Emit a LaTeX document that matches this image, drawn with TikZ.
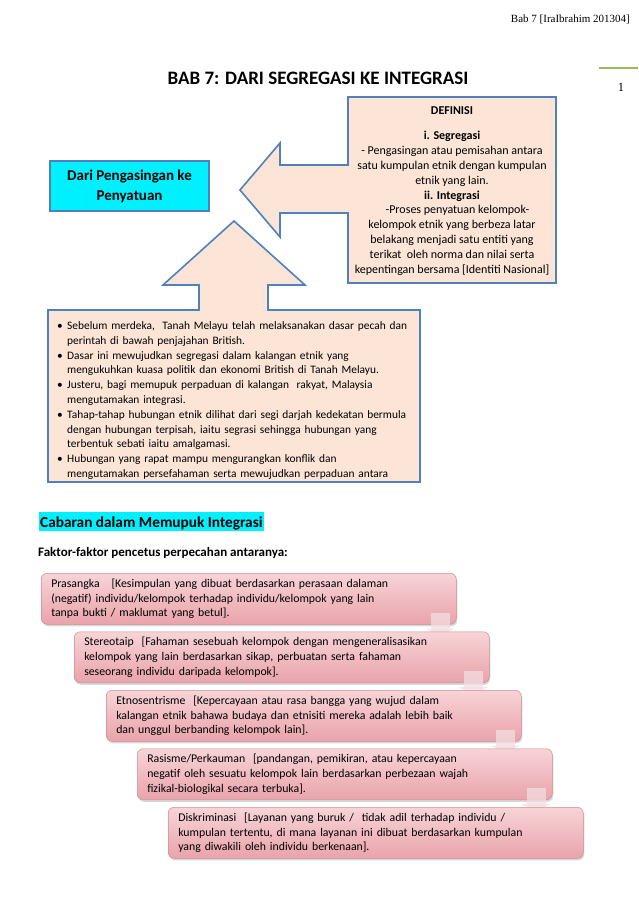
\documentclass[tikz,border=0pt]{standalone}
\usepackage{fontspec}
\setmainfont{Carlito}
\newfontfamily\hdrfont{Liberation Serif}
\usetikzlibrary{shadows}
\definecolor{peach}{RGB}{252,229,214}
\definecolor{bluebord}{RGB}{79,129,189}
\definecolor{cyanfill}{RGB}{0,240,255}
\definecolor{pinktop}{RGB}{247,212,215}
\definecolor{pinkbot}{RGB}{233,163,171}
\definecolor{pinkline}{RGB}{205,140,148}
\definecolor{conncol}{RGB}{242,222,225}
\definecolor{greenline}{RGB}{155,187,89}
\newcommand\blitem{\par\hangindent=10pt\hangafter=1\noindent\makebox[10pt][l]{\textbullet}}
\begin{document}
\begin{tikzpicture}[x=1pt,y=-1pt,
  callout/.style={fill=peach, draw=bluebord, line width=1.6pt, line join=miter},
  stepbox/.style={rounded corners=6pt, top color=pinktop, bottom color=pinkbot,
    draw=pinkline, line width=0.5pt, anchor=north west, text width=395pt,
    inner xsep=10pt, inner ysep=0pt, minimum height=51pt, align=left,
    font=\fontsize{11.8}{14.8}\selectfont,
    drop shadow={opacity=0.3, shadow xshift=1pt, shadow yshift=-2pt}},
  conn/.style={fill=conncol, opacity=0.75, draw=none}
]
\useasboundingbox (0,0) rectangle (638,902);
\fill[white] (0,0) rectangle (638,902);

% header
\node[anchor=base east, inner sep=0pt, font=\hdrfont\fontsize{11}{13}\selectfont] (hdr) at (630,22) {Bab 7 [IraIbrahim 201304]};
\draw[greenline, line width=2.5pt] (599,68) coordinate (gl1) -- (638,68) coordinate (gl2);
\node[anchor=base, inner sep=0pt, font=\hdrfont\fontsize{12.5}{14}\selectfont] (pnum) at (621,91) {1};

% title
\node[anchor=base, inner sep=0pt, font=\bfseries\fontsize{19}{22}\selectfont] (title) at (318,84) {BAB 7: DARI SEGREGASI KE INTEGRASI};

% left arrow callout (definisi)
\draw[callout] (348,97) -- (556,97) -- (556,283) -- (348,283) -- (348,213) -- (280,213)
  -- (280,237) -- (240,190) -- (280,143) -- (280,165) -- (348,165) -- cycle;
\node[anchor=north, inner sep=0pt, align=center, font=\fontsize{12}{14.8}\selectfont] (def) at (452,106)
 {\textbf{DEFINISI}\\[11pt]\textbf{i. Segregasi}\\- Pengasingan atau pemisahan antara\\satu kumpulan etnik dengan kumpulan\\etnik yang lain.\\\textbf{ii. Integrasi}\\\ \ \ \ -Proses penyatuan kelompok-\\kelompok etnik yang berbeza latar\\belakang menjadi satu entiti yang\\terikat\ \ oleh norma dan nilai serta\\kepentingan bersama [Identiti Nasional]};

% cyan box
\node[draw=bluebord, line width=2.5pt, fill=cyanfill, minimum width=159pt, minimum height=50pt,
  inner sep=0pt, align=center, font=\bfseries\fontsize{15}{20}\selectfont] (dari) at (129.5,186)
  {Dari Pengasingan ke\\Penyatuan};

% up arrow callout
\draw[callout] (48,310) -- (199,310) -- (199,285) -- (163,285) -- (234,221) -- (305,285)
  -- (268,285) -- (268,310) -- (420,310) -- (420,482) -- (48,482) -- cycle;
\node[anchor=north west, inner sep=0pt, text width=400pt, font=\fontsize{11.4}{14.8}\selectfont] (bl) at (57,314.5)
 {\parindent=0pt\parskip=0pt
  \blitem Sebelum merdeka,\ \ Tanah Melayu telah melaksanakan dasar pecah dan\newline perintah di bawah penjajahan British.
  \blitem Dasar ini mewujudkan segregasi dalam kalangan etnik yang\newline mengukuhkan kuasa politik dan ekonomi British di Tanah Melayu.
  \blitem Justeru, bagi memupuk perpaduan di kalangan\ \ rakyat, Malaysia\newline mengutamakan integrasi.
  \blitem Tahap-tahap hubungan etnik dilihat dari segi darjah kedekatan bermula\newline dengan hubungan terpisah, iaitu segrasi sehingga hubungan yang\newline terbentuk sebati iaitu amalgamasi.
  \blitem Hubungan yang rapat mampu mengurangkan konflik dan\newline mengutamakan persefahaman serta mewujudkan perpaduan antara\par};

% section heading
\node[anchor=base west, fill=cyanfill, inner xsep=1.5pt, inner ysep=0pt, text height=15pt, text depth=4pt,
  font=\bfseries\fontsize{15.3}{18}\selectfont] (cab) at (38.5,527) {Cabaran dalam Memupuk Integrasi};
\node[anchor=base west, inner sep=0pt, font=\bfseries\fontsize{13}{16}\selectfont] (fak) at (38,556)
  {Faktor-faktor pencetus perpecahan antaranya:};

% step boxes
\node[stepbox] (s1) at (41,573) {Prasangka\ \ \ [Kesimpulan yang dibuat berdasarkan perasaan dalaman\\(negatif) individu/kelompok terhadap individu/kelompok yang lain\\tanpa bukti / maklumat yang betul].};
\fill[conn] ([xshift=-26pt,yshift=12pt]s1.south east) rectangle ([xshift=-7pt,yshift=-6pt]s1.south east);
\fill[conn] ([xshift=-31pt,yshift=-4pt]s1.south east) -- ([xshift=-2pt,yshift=-4pt]s1.south east) -- ([xshift=-16.5pt,yshift=-12pt]s1.south east) -- cycle;

\node[stepbox] (s2) at (74,631.5) {Stereotaip\ \ [Fahaman sesebuah kelompok dengan mengeneralisasikan\\kelompok yang lain berdasarkan sikap, perbuatan serta fahaman\\seseorang individu daripada kelompok].};
\fill[conn] ([xshift=-26pt,yshift=12pt]s2.south east) rectangle ([xshift=-7pt,yshift=-6pt]s2.south east);
\fill[conn] ([xshift=-31pt,yshift=-4pt]s2.south east) -- ([xshift=-2pt,yshift=-4pt]s2.south east) -- ([xshift=-16.5pt,yshift=-12pt]s2.south east) -- cycle;

\node[stepbox] (s3) at (106,690) {Etnosentrisme\ \ [Kepercayaan atau rasa bangga yang wujud dalam\\kalangan etnik bahawa budaya dan etnisiti mereka adalah lebih baik\\dan unggul berbanding kelompok lain].};
\fill[conn] ([xshift=-26pt,yshift=12pt]s3.south east) rectangle ([xshift=-7pt,yshift=-6pt]s3.south east);
\fill[conn] ([xshift=-31pt,yshift=-4pt]s3.south east) -- ([xshift=-2pt,yshift=-4pt]s3.south east) -- ([xshift=-16.5pt,yshift=-12pt]s3.south east) -- cycle;

\node[stepbox] (s4) at (137,748.5) {Rasisme/Perkauman\ \ [pandangan, pemikiran, atau kepercayaan\\negatif oleh sesuatu kelompok lain berdasarkan perbezaan wajah\\fizikal-biologikal secara terbuka].};
\fill[conn] ([xshift=-26pt,yshift=12pt]s4.south east) rectangle ([xshift=-7pt,yshift=-6pt]s4.south east);
\fill[conn] ([xshift=-31pt,yshift=-4pt]s4.south east) -- ([xshift=-2pt,yshift=-4pt]s4.south east) -- ([xshift=-16.5pt,yshift=-12pt]s4.south east) -- cycle;

\node[stepbox] (s5) at (168,807) {Diskriminasi\ \ [Layanan yang buruk /\ \ tidak adil terhadap individu /\\kumpulan tertentu, di mana layanan ini dibuat berdasarkan kumpulan\\yang diwakili oleh individu berkenaan].};
\end{tikzpicture}
\end{document}
